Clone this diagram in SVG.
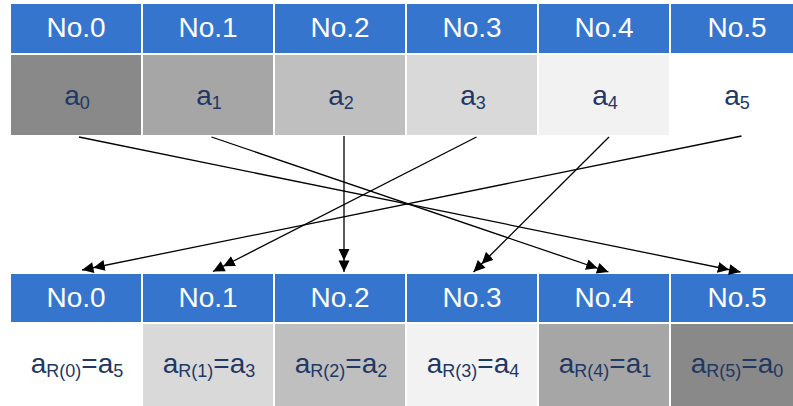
<svg xmlns="http://www.w3.org/2000/svg" width="793" height="406" viewBox="0 0 793 406">
  <style>
    .hdr { fill: #3575cd; stroke: #ffffff; stroke-width: 2; }
    .cell { stroke: #ffffff; stroke-width: 2; }
    .htxt { font-family: "Liberation Sans", Arial, sans-serif; font-size: 28px; fill: #ffffff; text-anchor: middle; }
    .vtxt { font-family: "Liberation Sans", Arial, sans-serif; font-size: 28px; fill: #1f3864; text-anchor: middle; }
    .sub { font-size: 18px; }
    .wire { stroke: #000000; stroke-width: 1.3; fill: none; marker-end: url(#dbl); }
  </style>
  <defs>
    <!-- double-triangle arrowhead -->
    <marker id="dbl" markerUnits="userSpaceOnUse" viewBox="0 0 23 12" markerWidth="23" markerHeight="12" refX="23" refY="6" orient="auto">
      <path d="M0,0.5 L11.5,6 L0,11.5 Z M11.5,0.5 L23,6 L11.5,11.5 Z" fill="#000000"/>
    </marker>
  </defs>
  <rect width="793" height="406" fill="#ffffff"/>

  <!-- source row -->
  <g id="src0">
    <rect class="hdr" x="10" y="3" width="132" height="51"/>
    <text class="htxt" x="76" y="36.5">No.0</text>
    <rect class="cell" x="10" y="54" width="132" height="82" fill="#898989"/>
    <text class="vtxt" x="77" y="105">a<tspan class="sub" dy="4">0</tspan></text>
  </g>
  <g id="src1">
    <rect class="hdr" x="142" y="3" width="132" height="51"/>
    <text class="htxt" x="208" y="36.5">No.1</text>
    <rect class="cell" x="142" y="54" width="132" height="82" fill="#a6a6a6"/>
    <text class="vtxt" x="209" y="105">a<tspan class="sub" dy="4">1</tspan></text>
  </g>
  <g id="src2">
    <rect class="hdr" x="274" y="3" width="132" height="51"/>
    <text class="htxt" x="340" y="36.5">No.2</text>
    <rect class="cell" x="274" y="54" width="132" height="82" fill="#bfbfbf"/>
    <text class="vtxt" x="341" y="105">a<tspan class="sub" dy="4">2</tspan></text>
  </g>
  <g id="src3">
    <rect class="hdr" x="406" y="3" width="132" height="51"/>
    <text class="htxt" x="472" y="36.5">No.3</text>
    <rect class="cell" x="406" y="54" width="132" height="82" fill="#d9d9d9"/>
    <text class="vtxt" x="473" y="105">a<tspan class="sub" dy="4">3</tspan></text>
  </g>
  <g id="src4">
    <rect class="hdr" x="538" y="3" width="132" height="51"/>
    <text class="htxt" x="604" y="36.5">No.4</text>
    <rect class="cell" x="538" y="54" width="132" height="82" fill="#f2f2f2"/>
    <text class="vtxt" x="605" y="105">a<tspan class="sub" dy="4">4</tspan></text>
  </g>
  <g id="src5">
    <rect class="hdr" x="670" y="3" width="132" height="51"/>
    <text class="htxt" x="737" y="36.5">No.5</text>
    <rect class="cell" x="670" y="54" width="132" height="82" fill="#ffffff"/>
    <text class="vtxt" x="737" y="105">a<tspan class="sub" dy="4">5</tspan></text>
  </g>

  <!-- reordered row -->
  <g id="dst0">
    <rect class="hdr" x="10" y="273" width="132" height="50"/>
    <text class="htxt" x="76" y="306.5">No.0</text>
    <rect class="cell" x="10" y="323" width="132" height="84" fill="#ffffff"/>
    <text class="vtxt" x="77" y="373">a<tspan class="sub" dy="4">R(0)</tspan><tspan dy="-4">=a</tspan><tspan class="sub" dy="4">5</tspan></text>
  </g>
  <g id="dst1">
    <rect class="hdr" x="142" y="273" width="132" height="50"/>
    <text class="htxt" x="208" y="306.5">No.1</text>
    <rect class="cell" x="142" y="323" width="132" height="84" fill="#d9d9d9"/>
    <text class="vtxt" x="209" y="373">a<tspan class="sub" dy="4">R(1)</tspan><tspan dy="-4">=a</tspan><tspan class="sub" dy="4">3</tspan></text>
  </g>
  <g id="dst2">
    <rect class="hdr" x="274" y="273" width="132" height="50"/>
    <text class="htxt" x="340" y="306.5">No.2</text>
    <rect class="cell" x="274" y="323" width="132" height="84" fill="#bfbfbf"/>
    <text class="vtxt" x="341" y="373">a<tspan class="sub" dy="4">R(2)</tspan><tspan dy="-4">=a</tspan><tspan class="sub" dy="4">2</tspan></text>
  </g>
  <g id="dst3">
    <rect class="hdr" x="406" y="273" width="132" height="50"/>
    <text class="htxt" x="472" y="306.5">No.3</text>
    <rect class="cell" x="406" y="323" width="132" height="84" fill="#f2f2f2"/>
    <text class="vtxt" x="473" y="373">a<tspan class="sub" dy="4">R(3)</tspan><tspan dy="-4">=a</tspan><tspan class="sub" dy="4">4</tspan></text>
  </g>
  <g id="dst4">
    <rect class="hdr" x="538" y="273" width="132" height="50"/>
    <text class="htxt" x="604" y="306.5">No.4</text>
    <rect class="cell" x="538" y="323" width="132" height="84" fill="#a6a6a6"/>
    <text class="vtxt" x="605" y="373">a<tspan class="sub" dy="4">R(4)</tspan><tspan dy="-4">=a</tspan><tspan class="sub" dy="4">1</tspan></text>
  </g>
  <g id="dst5">
    <rect class="hdr" x="670" y="273" width="132" height="50"/>
    <text class="htxt" x="737" y="306.5">No.5</text>
    <rect class="cell" x="670" y="323" width="132" height="84" fill="#898989"/>
    <text class="vtxt" x="737" y="373">a<tspan class="sub" dy="4">R(5)</tspan><tspan dy="-4">=a</tspan><tspan class="sub" dy="4">0</tspan></text>
  </g>

  <!-- connectors -->
  <g id="connectors">
    <line class="wire" x1="79" y1="137" x2="740.5" y2="272"/>
    <line class="wire" x1="211.5" y1="137" x2="608.5" y2="272"/>
    <line class="wire" x1="344" y1="136" x2="344" y2="272"/>
    <line class="wire" x1="476.5" y1="137" x2="213" y2="271.5"/>
    <line class="wire" x1="609" y1="137" x2="473.5" y2="272"/>
    <line class="wire" x1="741.5" y1="136" x2="82" y2="270"/>
  </g>
</svg>
